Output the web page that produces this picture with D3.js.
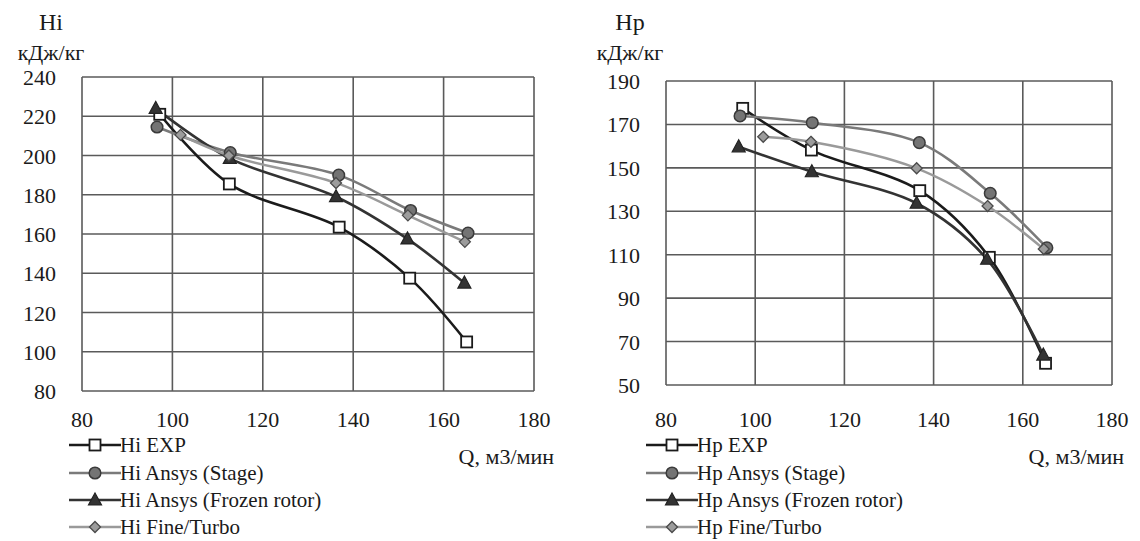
<!DOCTYPE html>
<html>
<head>
<meta charset="utf-8">
<script src="https://cdn.jsdelivr.net/npm/d3@7"></script>
<style>
  html, body { margin: 0; padding: 0; background: #fff; }
  svg { display: block; }
</style>
</head>
<body>
<svg id="chart" width="1140" height="541" font-family="'Liberation Serif', 'Times New Roman', Times, 'DejaVu Serif', serif"></svg>
<script>
// Flow rate Q, m3/min, for each measured/computed point
const qExp     = [97.2, 112.6, 136.9, 152.5, 165.1];
const qStage   = [96.6, 112.8, 136.8, 152.7, 165.4];
const qFrozen  = [96.3, 112.7, 136.2, 152.0, 164.6];
const qFine    = [101.8, 112.5, 136.2, 152.1, 164.7];

// Hi (left panel), kJ/kg
const hiExp    = [221, 185.5, 163.5, 137.5, 105];
const hiStage  = [214.5, 201.5, 190, 172, 160.5];
const hiFrozen = [224, 198.5, 179, 157.5, 135];
const hiFine   = [210.5, 200, 186, 169.5, 156];

// Hp (right panel), kJ/kg
const hpExp    = [177.4, 158.2, 139.5, 108.8, 60];
const hpStage  = [173.9, 170.8, 161.6, 138.3, 113.2];
const hpFrozen = [159.7, 148.2, 133.7, 107.9, 63.8];
const hpFine   = [164.3, 162, 149.8, 132.4, 112.6];

// Axis ticks
const xTicks  = [80, 100, 120, 140, 160, 180];
const hiTicks = [80, 100, 120, 140, 160, 180, 200, 220, 240];
const hpTicks = [50, 70, 90, 110, 130, 150, 170, 190];

const seriesNames = ["EXP", "Ansys (Stage)", "Ansys (Frozen rotor)", "Fine/Turbo"];

const styles = [
  { line: "#1b1b1b", width: 2.6, marker: "square",   fill: "#ffffff", stroke: "#1b1b1b" },
  { line: "#7a7a7a", width: 2.6, marker: "circle",   fill: "#747474", stroke: "#3a3a3a" },
  { line: "#333333", width: 2.6, marker: "triangle", fill: "#333333", stroke: "#222222" },
  { line: "#9a9a9a", width: 2.4, marker: "diamond",  fill: "#9c9c9c", stroke: "#4a4a4a" }
];

const svg = d3.select("#chart");

function drawMarker(g, type, x, y, st) {
  if (type === "square") {
    g.append("rect").attr("x", x - 5.5).attr("y", y - 5.5).attr("width", 11).attr("height", 11)
      .attr("fill", st.fill).attr("stroke", st.stroke).attr("stroke-width", 1.8);
  } else if (type === "circle") {
    g.append("circle").attr("cx", x).attr("cy", y).attr("r", 5.8)
      .attr("fill", st.fill).attr("stroke", st.stroke).attr("stroke-width", 1.5);
  } else if (type === "triangle") {
    g.append("path").attr("d", `M${x},${y - 7} L${x + 6.5},${y + 5} L${x - 6.5},${y + 5} Z`)
      .attr("fill", st.fill).attr("stroke", st.stroke).attr("stroke-width", 1.2);
  } else {
    g.append("path").attr("d", `M${x},${y - 5.5} L${x + 5.5},${y} L${x},${y + 5.5} L${x - 5.5},${y} Z`)
      .attr("fill", st.fill).attr("stroke", st.stroke).attr("stroke-width", 1.3);
  }
}

function panel(cfg) {
  const g = svg.append("g");
  const x = d3.scaleLinear().domain([80, 180]).range(cfg.xRange);
  const y = d3.scaleLinear().domain(cfg.yDomain).range(cfg.yRange);

  // grid and frame
  const grid = g.append("g").attr("stroke", "#5a5a5a").attr("stroke-width", 1.6);
  cfg.yTicks.forEach(t => {
    grid.append("line").attr("x1", x(80)).attr("x2", x(180)).attr("y1", y(t)).attr("y2", y(t));
  });
  xTicks.forEach(t => {
    grid.append("line").attr("x1", x(t)).attr("x2", x(t)).attr("y1", y(cfg.yDomain[0])).attr("y2", y(cfg.yDomain[1]));
  });

  // tick labels
  g.append("g").selectAll("text").data(cfg.yTicks).join("text")
    .attr("x", x(80) - 26).attr("y", d => y(d) + 8)
    .attr("text-anchor", "end").attr("font-size", 22).attr("fill", "#1a1a1a").text(d => d);
  g.append("g").selectAll("text").data(xTicks).join("text")
    .attr("x", d => x(d)).attr("y", 427)
    .attr("text-anchor", "middle").attr("font-size", 22).attr("fill", "#1a1a1a").text(d => d);

  // axis titles
  g.append("text").attr("x", cfg.titleX).attr("y", 30).attr("text-anchor", "middle")
    .attr("font-size", 24).attr("fill", "#1a1a1a").text(cfg.title);
  g.append("text").attr("x", cfg.titleX).attr("y", 60).attr("text-anchor", "middle")
    .attr("font-size", 22).attr("fill", "#1a1a1a").text("кДж/кг");
  g.append("text").attr("x", cfg.qX).attr("y", 464).attr("text-anchor", "end")
    .attr("font-size", 22).attr("fill", "#1a1a1a").text("Q, м3/мин");

  // series
  const line = d3.line().x(d => x(d[0])).y(d => y(d[1])).curve(d3.curveCatmullRom.alpha(0.5));
  cfg.series.forEach((s, i) => {
    const pts = s.q.map((q, k) => [q, s.h[k]]);
    g.append("path").attr("d", line(pts)).attr("fill", "none")
      .attr("stroke", styles[i].line).attr("stroke-width", styles[i].width);
  });
  cfg.series.forEach((s, i) => {
    const mg = g.append("g");
    s.q.forEach((q, k) => drawMarker(mg, styles[i].marker, x(q), y(s.h[k]), styles[i]));
  });

  // legend
  const rows = [445, 473, 500, 527];
  seriesNames.forEach((name, i) => {
    const lg = g.append("g");
    lg.append("line").attr("x1", cfg.legX).attr("x2", cfg.legX + 52)
      .attr("y1", rows[i]).attr("y2", rows[i])
      .attr("stroke", styles[i].line).attr("stroke-width", styles[i].width);
    drawMarker(lg, styles[i].marker, cfg.legX + 26, rows[i], styles[i]);
    lg.append("text").attr("x", cfg.legX + 51).attr("y", rows[i] + 7)
      .attr("font-size", 21).attr("fill", "#1a1a1a").text(cfg.prefix + " " + name);
  });
}

panel({
  title: "Hi", titleX: 51, prefix: "Hi",
  xRange: [82, 534], yDomain: [80, 240], yRange: [391, 77], yTicks: hiTicks,
  qX: 554, legX: 69,
  series: [
    { q: qExp, h: hiExp }, { q: qStage, h: hiStage },
    { q: qFrozen, h: hiFrozen }, { q: qFine, h: hiFine }
  ]
});

panel({
  title: "Hp", titleX: 630, prefix: "Hp",
  xRange: [666, 1112], yDomain: [50, 190], yRange: [385, 81], yTicks: hpTicks,
  qX: 1124, legX: 646,
  series: [
    { q: qExp, h: hpExp }, { q: qStage, h: hpStage },
    { q: qFrozen, h: hpFrozen }, { q: qFine, h: hpFine }
  ]
});
</script>
</body>
</html>
